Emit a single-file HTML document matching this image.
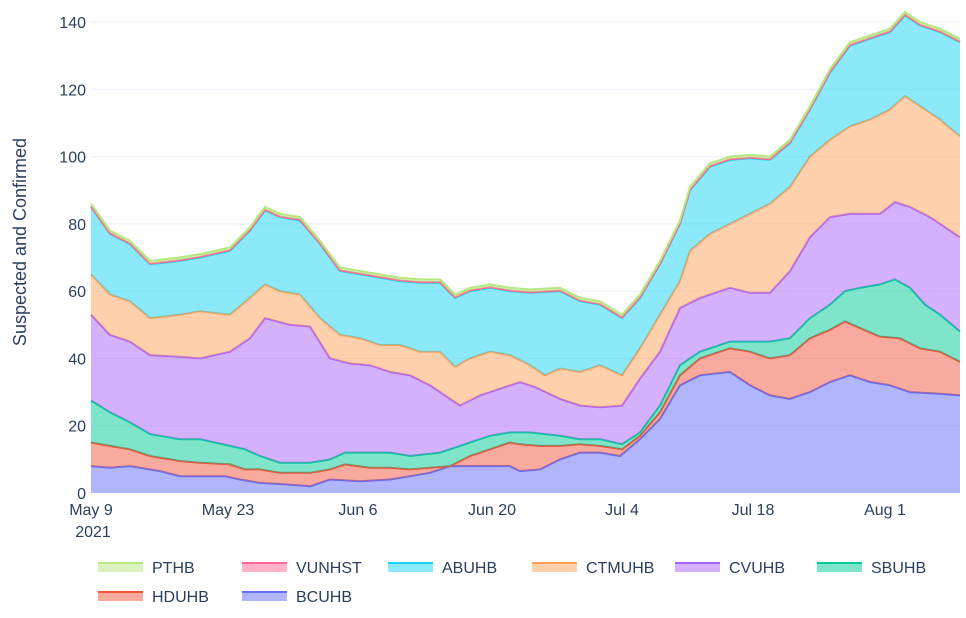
<!DOCTYPE html>
<html><head><meta charset="utf-8"><style>
body{margin:0;background:#fff;}
svg text{font-family:"Liberation Sans",sans-serif;fill:#2a3f5f;}
</style></head><body>
<svg id="s" width="966" height="613" xmlns="http://www.w3.org/2000/svg">
<g id="grid"></g><g id="areas"></g><g id="axes"></g><g id="leg"></g>
<text x="26" y="242" font-size="18" transform="rotate(-90 26 242)" text-anchor="middle">Suspected and Confirmed</text>
</svg>
<script>
const NS="http://www.w3.org/2000/svg";
function el(t,a,p,txt){const e=document.createElementNS(NS,t);for(const k in a)e.setAttribute(k,a[k]);if(txt!==undefined)e.textContent=txt;document.getElementById(p).appendChild(e);return e;}
const Y=v=>493-v*471/140;
for(let v=0;v<=140;v+=20){ if(v>0)el('line',{x1:91,x2:960,y1:Y(v),y2:Y(v),stroke:'#ebf0f8','stroke-width':1},'grid');
 el('text',{x:86,y:Y(v)+6,'font-size':16,'text-anchor':'end'},'axes',String(v));}
[[91,'May 9'],[228,'May 23'],[358,'Jun 6'],[492,'Jun 20'],[622,'Jul 4'],[753,'Jul 18'],[885,'Aug 1']].forEach(([x,t])=>el('text',{x:x,y:515,'font-size':16,'text-anchor':'middle'},'axes',t));
el('text',{x:93,y:537,'font-size':16,'text-anchor':'middle'},'axes','2021');
const D={
BC:[[91,8],[110,7.5],[130,8],[160,6.5],[180,5],[225,5],[240,4],[260,3],[290,2.5],[310,2],[330,4],[360,3.5],[390,4],[410,5],[430,6],[450,8],[480,8],[510,8],[520,6.5],[540,7],[560,10],[580,12],[600,12],[620,11],[640,16],[660,22],[680,32],[700,35],[730,36],[750,32],[770,29],[790,28],[810,30],[830,33],[850,35],[870,33],[890,32],[910,30],[940,29.5],[960,29]],
HD:[[91,15],[110,14],[130,13],[150,11],[180,9.5],[200,9],[230,8.5],[245,7],[260,7],[280,6],[310,6],[330,7],[345,8.5],[370,7.5],[390,7.5],[410,7],[430,7.5],[450,8],[470,11],[490,13],[510,15],[520,14.5],[540,14],[560,14],[580,14.5],[600,14],[622,13],[640,17],[660,24],[680,35],[700,40],[730,43],[750,42],[770,40],[790,41],[810,46],[830,48.5],[845,51],[860,49],[880,46.5],[900,46],[920,43],[940,42],[960,39]],
SB:[[91,27.5],[110,24],[130,21],[150,17.5],[180,16],[200,16],[230,14],[245,13],[260,11],[280,9],[310,9],[330,10],[345,12],[370,12],[390,12],[410,11],[440,12],[450,13],[470,15],[490,17],[510,18],[530,18],[560,17],[580,16],[600,16],[622,14.5],[640,18],[660,26],[680,38],[700,42],[730,45],[750,45],[770,45],[790,46],[810,52],[830,56],[845,60],[860,61],[880,62],[895,63.5],[910,61],[925,56],[940,53],[960,48]],
CV:[[91,53],[110,47],[130,45],[150,41],[180,40.5],[200,40],[230,42],[250,46],[265,52],[290,50],[310,49.5],[330,40],[350,38.5],[370,38],[390,36],[410,35],[430,32],[450,28],[460,26],[480,29],[500,31],[520,33],[535,31.5],[560,28],[580,26],[600,25.5],[622,26],[640,34],[660,42],[680,55],[700,58],[730,61],[750,59.5],[770,59.5],[790,66],[810,76],[830,82],[850,83],[880,83],[895,86.5],[910,85],[930,82],[960,76]],
CT:[[91,65],[110,59],[130,57],[150,52],[180,53],[200,54],[230,53],[250,58],[265,62],[280,60],[300,59],[320,52],[340,47],[360,46],[380,44],[400,44],[420,42],[440,42],[455,37.5],[470,40],[490,42],[510,41],[530,38],[545,35],[560,37],[580,36],[600,38],[622,35],[640,43],[660,53],[680,63],[690,72],[710,77],[730,80],[750,83],[770,86],[790,91],[810,100],[830,105],[850,109],[870,111],[890,114],[905,118],[920,115],[940,111],[960,106]],
AB:[[91,85],[110,77],[130,74],[150,68],[180,69],[200,70],[230,72],[250,78],[265,84],[280,82],[300,81],[320,74],[340,66],[360,65],[380,64],[400,63],[420,62.5],[440,62.5],[455,58],[470,60],[490,61],[510,60],[530,59.5],[560,60],[580,57],[600,56],[622,52],[640,58],[660,68],[680,80],[690,90],[710,97],[730,99],[750,99.5],[770,99],[790,104],[810,114],[830,125],[850,133],[870,135],[890,137],[905,142],[920,139],[940,137],[960,134]]};
D.VU=D.AB.map(([x,v])=>[x,v+0.2]);
D.PT=D.AB.map(([x,v])=>[x,v+1]);
const order=[['BC','#636efa'],['HD','#ef553b'],['SB','#00cc96'],['CV','#ab63fa'],['CT','#ffa15a'],['AB','#19d3f3'],['VU','#ff6692'],['PT','#b6e880']];
let prev=[[91,0],[960,0]];
order.forEach(([k,c])=>{const p=D[k];
 const top=p.map(([x,v])=>x+','+Y(v).toFixed(1)).join(' L');
 const bot=prev.slice().reverse().map(([x,v])=>x+','+Y(v).toFixed(1)).join(' L');
 el('path',{d:'M'+top+' L'+bot+'Z',fill:c,'fill-opacity':0.5,stroke:'none'},'areas');
 el('path',{d:'M'+top,fill:'none',stroke:c,'stroke-width':2},'areas');
 prev=p;});
const L=[['PTHB','#b6e880',98,0],['VUNHST','#ff6692',242,0],['ABUHB','#19d3f3',388,0],['CTMUHB','#ffa15a',532,0],['CVUHB','#ab63fa',675,0],['SBUHB','#00cc96',817,0],['HDUHB','#ef553b',98,1],['BCUHB','#636efa',242,1]];
L.forEach(([t,c,x,r])=>{const y=562+r*29;
 el('rect',{x:x,y:y,width:45,height:10,fill:c,'fill-opacity':0.5},'leg');
 el('line',{x1:x,x2:x+45,y1:y+1,y2:y+1,stroke:c,'stroke-width':2},'leg');
 el('text',{x:x+54,y:y+11,'font-size':16},'leg',t);});
</script>
</body></html>
